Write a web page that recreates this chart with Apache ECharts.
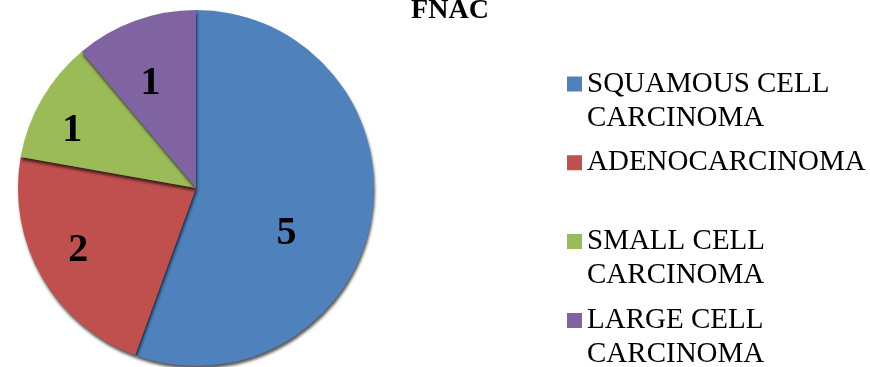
<!DOCTYPE html>
<html>
<head>
<meta charset="utf-8">
<script src="https://cdn.jsdelivr.net/npm/echarts@6/dist/echarts.min.js"></script>
<style>
  html, body { margin: 0; padding: 0; background: #fff; }
  #chart { width: 870px; height: 367px; }
</style>
</head>
<body>
<div id="chart"></div>
<script>
// FNAC diagnosis counts by carcinoma type
const categories = [
  'SQUAMOUS CELL CARCINOMA',
  'ADENOCARCINOMA',
  'SMALL CELL CARCINOMA',
  'LARGE CELL CARCINOMA'
];
const counts = [5, 2, 1, 1];
const legendLabels = [
  'SQUAMOUS CELL\nCARCINOMA',
  'ADENOCARCINOMA\n',
  'SMALL CELL\nCARCINOMA',
  'LARGE CELL\nCARCINOMA'
];
const titleText = 'FNAC';

// Office-style slice colours
const sliceColors = ['#4F81BD', '#C0504D', '#9BBB59', '#8064A2'];
// nudges for the in-slice value labels
const labelNudge = [[0, 30], [-38, 17], [-44, -11], [-14, -18]];

const serif = '"Liberation Serif", "Times New Roman", serif';

// legend swatch: a 15px square sitting at the top of a taller box,
// so it lines up with the first line of a two-line entry
const swatchIcon = 'path://M0,0L15,0L15,15L0,15Z M0,49L15,49';

const chart = echarts.init(document.getElementById('chart'), null, { renderer: 'canvas' });

chart.setOption({
  animation: false,
  backgroundColor: '#ffffff',
  title: {
    text: titleText,
    left: 450,
    textAlign: 'center',
    top: -3,
    padding: 0,
    textStyle: { fontFamily: serif, fontWeight: 'bold', fontSize: 28, color: '#000' }
  },
  legend: {
    orient: 'vertical',
    left: 567,
    top: 67,
    height: 400,
    padding: 0,
    itemWidth: 15,
    itemHeight: 49,
    itemGap: 10.8,
    icon: swatchIcon,
    selectedMode: false,
    data: categories,
    formatter: function (name) {
      return legendLabels[categories.indexOf(name)];
    },
    textStyle: {
      fontFamily: serif,
      fontSize: 29,
      lineHeight: 34,
      color: '#000'
    }
  },
  series: [{
    type: 'pie',
    center: [196, 188],
    radius: 178,
    startAngle: 90,
    clockwise: true,
    silent: true,
    itemStyle: {
      borderWidth: 0,
      shadowColor: 'rgba(0,0,0,0.65)',
      shadowBlur: 3,
      shadowOffsetX: 1,
      shadowOffsetY: 3
    },
    labelLine: { show: false },
    data: categories.map(function (name, i) {
      return {
        name: name,
        value: counts[i],
        itemStyle: { color: sliceColors[i] },
        label: {
          show: true,
          position: 'inside',
          formatter: String(counts[i]),
          offset: labelNudge[i],
          fontFamily: serif,
          fontWeight: 'bold',
          fontSize: 40,
          color: '#000'
        }
      };
    })
  }]
});
</script>
</body>
</html>
